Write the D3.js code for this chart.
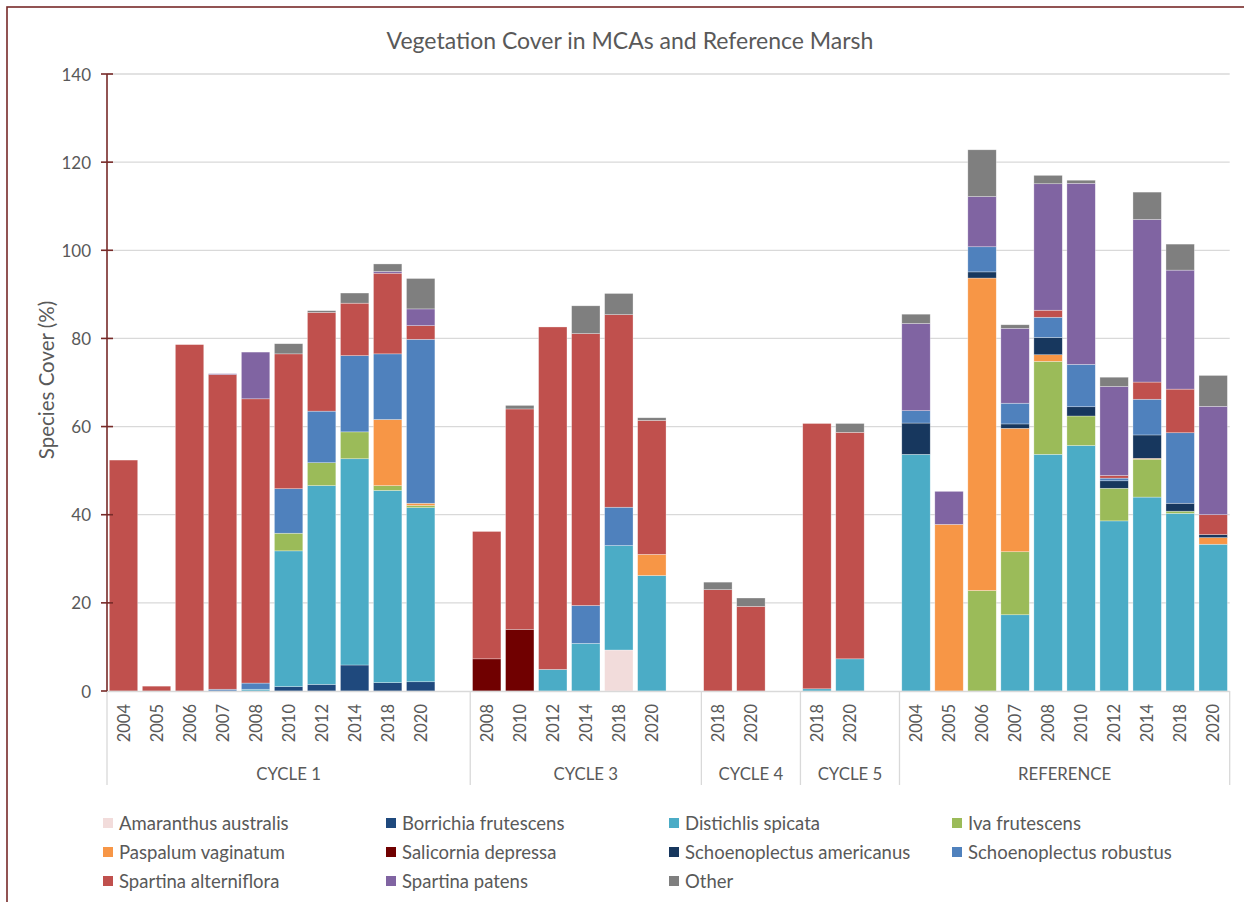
<!DOCTYPE html>
<html><head><meta charset="utf-8">
<script src="https://cdn.jsdelivr.net/npm/d3@7"></script>
<style>body{margin:0;background:#fff}svg{display:block}text{font-family:Lato,"Open Sans",sans-serif;fill:#595959}</style>
</head><body><svg id="c" width="1244" height="902"></svg>
<script>
const title = "Vegetation Cover in MCAs and Reference Marsh";
const yLabel = "Species Cover (%)";
const groupNames = ["CYCLE 1","CYCLE 3","CYCLE 4","CYCLE 5","REFERENCE"];
const groupYears = [
  ["2004","2005","2006","2007","2008","2010","2012","2014","2018","2020"],
  ["2008","2010","2012","2014","2018","2020"],
  ["2018","2020"],
  ["2018","2020"],
  ["2004","2005","2006","2007","2008","2010","2012","2014","2018","2020"]
];
const yTicks = [0,20,40,60,80,100,120,140];
const seriesNames = ["Amaranthus australis","Borrichia frutescens","Distichlis spicata","Iva frutescens","Paspalum vaginatum","Salicornia depressa","Schoenoplectus americanus","Schoenoplectus robustus","Spartina alterniflora","Spartina patens","Other"];
const seriesColors = ["#f2dcdb","#1f497d","#4bacc6","#9bbb59","#f79646","#700000","#17375e","#4f81bd","#c0504d","#8064a2","#7f7f7f"];
// values per category: Cycle1 (10) | Cycle3 (6) | Cycle4 (2) | Cycle5 (2) | Reference (10)
const amaranthus = [0,0,0,0,0,0,0,0,0,0, 0,0,0,0,9.3,0, 0,0, 0,0, 0,0,0,0,0,0,0,0,0,0];
const borrichia  = [0,0,0,0,0,1.0,1.5,5.9,1.9,2.1, 0,0,0,0,0,0, 0,0, 0,0, 0,0,0,0,0,0,0,0,0,0];
const distichlis = [0,0,0,0,0.4,30.8,45.1,46.8,43.6,39.5, 0,0,4.9,10.8,23.7,26.2, 0,0, 0.5,7.3, 53.7,0,0,17.3,53.7,55.7,38.6,44.0,40.3,33.3];
const iva        = [0,0,0,0,0,4.0,5.2,6.1,1.1,0.5, 0,0,0,0,0,0, 0,0, 0,0, 0,0,22.8,14.3,21.1,6.7,7.4,8.6,0.5,0];
const paspalum   = [0,0,0,0,0,0,0,0,15.0,0.5, 0,0,0,0,0,4.8, 0,0, 0,0, 0,37.8,70.9,28.0,1.5,0,0,0.2,0,1.5];
const salicornia = [0,0,0,0,0,0,0,0,0,0, 7.3,14.0,0,0,0,0, 0,0, 0,0, 0,0,0,0,0,0,0,0,0,0];
const schAmer    = [0,0,0,0,0,0,0,0,0,0, 0,0,0,0,0,0, 0,0, 0,0, 7.1,0,1.4,1.0,3.9,2.1,1.7,5.3,1.8,0.7];
const schRob     = [0,0,0,0.4,1.4,10.1,11.7,17.3,14.9,37.2, 0,0,0,8.6,8.7,0, 0,0, 0,0, 2.8,0,5.7,4.7,4.6,9.6,0.6,8.1,16.0,0];
const spAlt      = [52.4,1.1,78.6,71.4,64.5,30.6,22.4,11.9,18.3,3.1, 28.9,50.0,77.7,61.7,43.7,30.4, 23.0,19.2, 60.2,51.4, 0,0,0,0,1.6,0,0.6,3.9,9.9,4.5];
const spPatens   = [0,0,0,0.2,10.6,0,0,0,0.4,3.8, 0,0,0,0,0,0, 0,0, 0,0, 19.8,7.5,11.4,17.0,28.7,41.1,20.2,36.9,27.0,24.6];
const other      = [0,0,0,0,0,2.3,0.4,2.3,1.7,6.9, 0,0.8,0,6.3,4.8,0.6, 1.7,1.9, 0,2.0, 2.1,0,10.6,0.8,1.9,0.7,2.1,6.2,5.9,7.0];
const seriesValues = [amaranthus,borrichia,distichlis,iva,paspalum,salicornia,schAmer,schRob,spAlt,spPatens,other];

// build slot list (with one blank slot after each group except last)
const slots = [];
const cats = [];
groupNames.forEach((g,gi)=>{
  groupYears[gi].forEach(y=>{ const k=g+"|"+y; slots.push(k); cats.push({key:k,group:g,year:y}); });
  if (gi < groupNames.length-1) slots.push(g+"|gap");
});
const rows = cats.map((c,i)=>{ const r={key:c.key}; seriesNames.forEach((s,si)=>r[s]=seriesValues[si][i]); return r; });

const svg = d3.select("#c");
const maroon = "#772a28";
svg.append("rect").attr("x",7).attr("y",7).attr("width",1300).attr("height",1000).attr("fill","none").attr("stroke",maroon).attr("stroke-width",1.6);

const x = d3.scaleBand().domain(slots).range([107,1229.7]).paddingInner(0.14).paddingOuter(0.07);
const y = d3.scaleLinear().domain([0,140]).range([691,74]);

// gridlines
svg.append("g").selectAll("line").data(yTicks.filter(t=>t>0)).join("line")
  .attr("x1",107).attr("x2",1229.7).attr("y1",d=>y(d)).attr("y2",d=>y(d))
  .attr("stroke","#d9d9d9").attr("stroke-width",1.3);

// bars
const stack = d3.stack().keys(seriesNames)(rows);
svg.append("g").selectAll("g").data(stack).join("g")
  .attr("fill",(d,i)=>seriesColors[i])
  .selectAll("rect").data(d=>d.filter(p=>p[1]-p[0]>0)).join("rect")
  .attr("x",d=>x(d.data.key)).attr("width",x.bandwidth())
  .attr("y",d=>y(d[1])).attr("height",d=>y(d[0])-y(d[1]))
  .attr("stroke","#ffffff").attr("stroke-width",0.6).attr("stroke-opacity",0.5);

// category axis baseline
svg.append("line").attr("x1",107).attr("x2",1229.7).attr("y1",691.5).attr("y2",691.5).attr("stroke","#d9d9d9").attr("stroke-width",1.3);
// group separators
const bounds = [107];
groupNames.forEach((g,gi)=>{
  const lastKey = gi < groupNames.length-1 ? g+"|gap" : g+"|"+groupYears[gi][groupYears[gi].length-1];
  bounds.push(x(lastKey)-x.step()*x.paddingInner()/2 + x.step());
});
bounds[bounds.length-1] = 1229.7;
svg.append("g").selectAll("line").data(bounds).join("line")
  .attr("x1",d=>d).attr("x2",d=>d).attr("y1",691).attr("y2",785)
  .attr("stroke","#d9d9d9").attr("stroke-width",1.3);
// year labels
svg.append("g").selectAll("text").data(cats).join("text")
  .attr("transform",d=>`translate(${x(d.key)+x.bandwidth()/2},704) rotate(-90)`)
  .attr("text-anchor","end").attr("dominant-baseline","central")
  .style("font-size","16.5px").text(d=>d.year);
// group labels
svg.append("g").selectAll("text").data(groupNames).join("text")
  .attr("x",(d,i)=>(bounds[i]+bounds[i+1])/2).attr("y",773)
  .attr("text-anchor","middle").attr("dominant-baseline","central")
  .style("font-size","16.8px").text(d=>d);

// y axis
svg.append("line").attr("x1",107).attr("x2",107).attr("y1",y(140)).attr("y2",y(0)).attr("stroke",maroon).attr("stroke-width",1.6);
svg.append("g").selectAll("line").data(yTicks).join("line")
  .attr("x1",101).attr("x2",d=>d===0?107:113).attr("y1",d=>y(d)).attr("y2",d=>y(d))
  .attr("stroke",maroon).attr("stroke-width",1.6);
svg.append("g").selectAll("text").data(yTicks).join("text")
  .attr("x",91).attr("y",d=>y(d)).attr("text-anchor","end").attr("dominant-baseline","central")
  .style("font-size","17px").text(d=>d);
svg.append("text").attr("transform","translate(46,380) rotate(-90)").attr("text-anchor","middle")
  .attr("dominant-baseline","central").style("font-size","20.5px").text(yLabel);

// title
svg.append("text").attr("x",630).attr("y",40).attr("text-anchor","middle").attr("dominant-baseline","central")
  .style("font-size","23px").text(title);

// legend
const colX = [103,386,669,952];
const rowY = [823,852,881];
const lg = svg.append("g").selectAll("g").data(seriesNames).join("g")
  .attr("transform",(d,i)=>`translate(${colX[i%4]},${rowY[Math.floor(i/4)]})`);
lg.append("rect").attr("x",0).attr("y",-5).attr("width",10).attr("height",10).attr("fill",(d,i)=>seriesColors[i]);
lg.append("text").attr("x",16).attr("y",0).attr("dominant-baseline","central").style("font-size","18.5px").text(d=>d);
</script></body></html>
